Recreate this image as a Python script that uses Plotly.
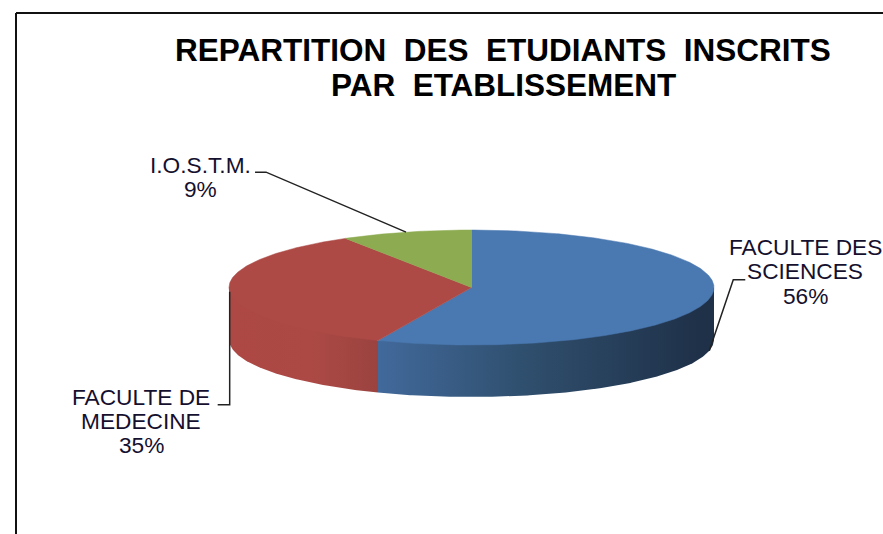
import math
import plotly.graph_objects as go

# --- data ---
title_lines = ["REPARTITION&nbsp; DES&nbsp; ETUDIANTS&nbsp; INSCRITS", "PAR&nbsp; ETABLISSEMENT"]
categories = ["FACULTE DES SCIENCES", "FACULTE DE MEDECINE", "I.O.S.T.M."]
values = [56.3, 35.0, 8.7]
label_lines = [["FACULTE DES", "SCIENCES", "56%"], ["FACULTE DE", "MEDECINE", "35%"], ["I.O.S.T.M.", "9%"]]

# --- style and layout ---
top_colors = ["#4a78b0", "#ad4a46", "#8dab50"]
side_scales = [
    [[0, "#41699b"], [0.42, "#30506f"], [0.95, "#1f3149"], [1, "#1f3149"]],
    [[0, "#ad4844"], [0.55, "#ac4945"], [1, "#9b433f"]],
    None,
]
CX, CY, RX, RY, DEPTH = 471.5, 287.5, 242.5, 57.5, 52
FONT = "Liberation Sans"
label_size = 22.7
title_size = 31.5
# for each slice: elbow offset and end offset of the leader, from its anchor on the pie
leader_offsets = [[(24, -71), (36, -71)], [(0, 113), (-12, 113)], [(-140, -60), (-151, -60)]]
leader_on_side = [True, False, False]
label_pos = [(805, [247, 271, 296]), (141, [397, 421, 445]), (200.5, [165, 189])]


def pt(angle, drop=0.0):
    a = math.radians(angle)
    return CX + RX * math.sin(a), CY - RY * math.cos(a) + drop


def arc(a0, a1, drop=0.0):
    n = max(2, int(abs(a1 - a0) * 2))
    return [pt(a0 + (a1 - a0) * i / n, drop) for i in range(n + 1)]


fig = go.Figure()
total = sum(values)
bounds = [0.0]
for v in values:
    bounds.append(bounds[-1] + 360.0 * v / total)

# sides (only the visible, front half of the cylinder: 90 to 270 degrees);
# the upper edge is a chord hidden under the top faces, which avoids a seam
for i in range(len(values)):
    a0, a1 = max(bounds[i], 90), min(bounds[i + 1], 270)
    if a0 >= a1 or side_scales[i] is None:
        continue
    poly = [pt(a0)] + [pt(a1)] + arc(a1, a0, DEPTH) + [pt(a0)]
    xs = [p[0] for p in poly]
    fig.add_trace(go.Scatter(
        x=xs, y=[p[1] for p in poly], mode="lines", line=dict(width=0), fill="toself",
        fillgradient=dict(type="horizontal", colorscale=side_scales[i], start=min(xs), stop=max(xs)),
        hoverinfo="skip", showlegend=False))

# top faces
for i in range(len(values)):
    poly = [(CX, CY)] + arc(bounds[i], bounds[i + 1]) + [(CX, CY)]
    fig.add_trace(go.Scatter(
        x=[p[0] for p in poly], y=[p[1] for p in poly], mode="lines",
        line=dict(width=0.5, color=top_colors[i]), fill="toself", fillcolor=top_colors[i],
        name=categories[i], hoverinfo="skip", showlegend=False))

# leader lines, anchored at each slice's mid angle
for i in range(len(values)):
    mid = (bounds[i] + bounds[i + 1]) / 2
    ax, ay = pt(mid, DEPTH if leader_on_side[i] else 0)
    xs = [ax] + [ax + dx for dx, dy in leader_offsets[i]]
    ys = [ay] + [ay + dy for dx, dy in leader_offsets[i]]
    fig.add_trace(go.Scatter(x=xs, y=ys, mode="lines", line=dict(color="#222222", width=1.5),
                             hoverinfo="skip", showlegend=False))

# text
for (lx, ys), lines in zip(label_pos, label_lines):
    for y, line in zip(ys, lines):
        fig.add_annotation(x=lx, y=y, text=line, showarrow=False, xanchor="center", yanchor="middle",
                           font=dict(family=FONT, size=label_size, color="#15102e"))
for y, line in zip([50, 85], title_lines):
    fig.add_annotation(x=503, y=y, text="<b>" + line + "</b>", showarrow=False, xanchor="center",
                       yanchor="middle", font=dict(family=FONT, size=title_size, color="#000000"))

# chart frame
fig.add_shape(type="line", x0=16, x1=883, y0=13, y1=13, line=dict(color="#111111", width=2))
fig.add_shape(type="line", x0=16, x1=16, y0=13, y1=534, line=dict(color="#111111", width=2))

fig.update_layout(
    width=883, height=534, margin=dict(l=0, r=0, t=0, b=0),
    paper_bgcolor="white", plot_bgcolor="white", showlegend=False,
    xaxis=dict(range=[0, 883], visible=False, fixedrange=True),
    yaxis=dict(range=[534, 0], visible=False, fixedrange=True),
)
fig.write_html("out.html", config={"displayModeBar": False},
               post_script="document.body.style.margin='0';document.documentElement.style.overflow='hidden';")
